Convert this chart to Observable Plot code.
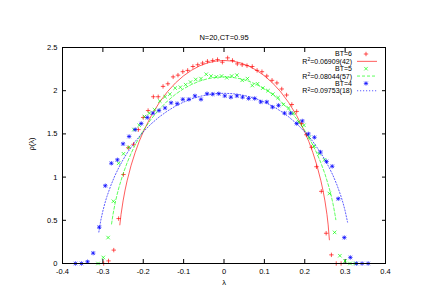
<!DOCTYPE html>
<html><head><meta charset="utf-8">
<script src="https://cdn.jsdelivr.net/npm/d3@7"></script>
<script src="https://cdn.jsdelivr.net/npm/@observablehq/plot@0.6"></script>
<style>
html,body{margin:0;padding:0;background:#fff;}
#chart{width:436px;height:308px;}
</style></head><body><div id="chart"></div>
<script>
const title = "N=20,CT=0.95";
const xLabel = "λ";
const yLabel = "ρ(λ)";
const xTicks = [-0.4,-0.3,-0.2,-0.1,0,0.1,0.2,0.3,0.4];
const yTicks = [0,0.5,1,1.5,2,2.5];
const seriesNames = ["BT=6","BT=5","BT=4"];
const fitLabels = ["=0.06909(42)","=0.08044(57)","=0.09753(18)"];
const colors = ["#ff0000","#00ff00","#0000ff"];

// BT=6 histogram
const bt6X = [-0.298,-0.286,-0.273,-0.261,-0.249,-0.237,-0.224,-0.212,-0.200,-0.188,-0.175,-0.163,-0.151,-0.139,-0.126,-0.114,-0.102,-0.090,-0.077,-0.065,-0.053,-0.041,-0.028,-0.016,-0.004,0.009,0.021,0.033,0.045,0.057,0.070,0.082,0.094,0.106,0.119,0.131,0.143,0.155,0.168,0.180,0.192,0.204,0.217,0.229,0.241,0.253,0.266,0.278,0.290];
const bt6Y = [0,0.03,0.155,0.52,1.03,1.34,1.38,1.55,1.69,1.77,1.93,1.93,2.05,2.08,2.16,2.18,2.22,2.235,2.28,2.30,2.32,2.34,2.35,2.36,2.33,2.38,2.35,2.31,2.30,2.29,2.28,2.235,2.22,2.17,2.12,2.09,2.02,1.95,1.84,1.76,1.62,1.49,1.345,1.12,0.835,0.35,0.10,0,0];
// BT=5 histogram
const bt5X = [-0.312,-0.299,-0.287,-0.274,-0.261,-0.249,-0.236,-0.223,-0.210,-0.197,-0.185,-0.172,-0.159,-0.146,-0.134,-0.121,-0.108,-0.095,-0.083,-0.070,-0.057,-0.044,-0.032,-0.019,-0.006,0.007,0.019,0.032,0.045,0.058,0.070,0.083,0.096,0.109,0.121,0.134,0.147,0.160,0.172,0.185,0.198,0.211,0.223,0.236,0.249,0.261,0.274,0.287,0.300,0.312,0.325];
const bt5Y = [0,0.07,0.30,0.72,1.16,1.27,1.345,1.55,1.60,1.70,1.74,1.78,1.88,1.93,1.96,2.03,2.04,2.07,2.10,2.13,2.14,2.19,2.17,2.16,2.17,2.15,2.17,2.18,2.12,2.14,2.06,2.08,2.03,2.00,1.96,1.92,1.84,1.80,1.74,1.64,1.60,1.46,1.36,1.27,1.20,0.81,0.36,0.09,0.03,0,0];
// BT=4 histogram
const bt4X = [-0.368,-0.353,-0.338,-0.324,-0.309,-0.294,-0.279,-0.264,-0.250,-0.235,-0.220,-0.205,-0.190,-0.176,-0.161,-0.146,-0.131,-0.116,-0.102,-0.087,-0.072,-0.057,-0.042,-0.028,-0.013,0.002,0.017,0.032,0.046,0.061,0.076,0.091,0.106,0.120,0.135,0.150,0.165,0.180,0.194,0.209,0.224,0.239,0.254,0.268,0.283,0.298,0.313,0.328,0.342,0.357];
const bt4Y = [0,0,0.02,0.12,0.42,0.90,1.16,1.20,1.385,1.47,1.55,1.62,1.69,1.74,1.77,1.80,1.86,1.85,1.90,1.90,1.94,1.90,1.965,1.96,1.965,1.94,1.925,1.94,1.925,1.91,1.91,1.87,1.87,1.81,1.83,1.74,1.74,1.62,1.65,1.50,1.46,1.29,1.18,1.125,0.75,0.30,0.07,0,0,0];

// fitted curves
const fit6X = [-0.258,-0.255,-0.25,-0.245,-0.24,-0.23,-0.22,-0.21,-0.2,-0.18,-0.16,-0.14,-0.12,-0.1,-0.08,-0.06,-0.04,-0.02,0,0.02,0.04,0.06,0.08,0.1,0.12,0.14,0.16,0.18,0.2,0.21,0.22,0.23,0.24,0.245,0.25,0.255,0.258,0.261];
const fit6Y = [0.447,0.568,0.724,0.850,0.957,1.137,1.285,1.413,1.524,1.712,1.864,1.989,2.091,2.173,2.238,2.288,2.323,2.343,2.35,2.343,2.323,2.288,2.238,2.173,2.091,1.989,1.864,1.712,1.524,1.413,1.285,1.137,0.957,0.850,0.724,0.568,0.447,0.274];
const fit5X = [-0.2785,-0.275,-0.27,-0.265,-0.26,-0.25,-0.24,-0.23,-0.22,-0.2,-0.18,-0.16,-0.14,-0.12,-0.1,-0.08,-0.06,-0.04,-0.02,0,0.02,0.04,0.06,0.08,0.1,0.12,0.14,0.16,0.18,0.2,0.22,0.23,0.24,0.25,0.26,0.265,0.27,0.275,0.277];
const fit5Y = [0.457,0.566,0.691,0.794,0.884,1.037,1.165,1.275,1.373,1.539,1.674,1.787,1.881,1.959,2.023,2.073,2.112,2.139,2.155,2.16,2.155,2.139,2.112,2.073,2.023,1.959,1.881,1.787,1.674,1.539,1.373,1.275,1.165,1.037,0.884,0.794,0.691,0.566,0.507];
const fit4X = [-0.31,-0.305,-0.3,-0.295,-0.29,-0.28,-0.27,-0.26,-0.25,-0.24,-0.22,-0.2,-0.18,-0.16,-0.14,-0.12,-0.1,-0.08,-0.06,-0.04,-0.02,0,0.02,0.04,0.06,0.08,0.1,0.12,0.14,0.16,0.18,0.2,0.22,0.24,0.25,0.26,0.27,0.28,0.29,0.295,0.3,0.306];
const fit4Y = [0.364,0.503,0.609,0.698,0.775,0.907,1.019,1.115,1.201,1.278,1.412,1.523,1.618,1.698,1.765,1.822,1.868,1.906,1.934,1.954,1.966,1.97,1.966,1.954,1.934,1.906,1.868,1.822,1.765,1.698,1.618,1.523,1.412,1.278,1.201,1.115,1.019,0.907,0.775,0.698,0.609,0.479];

const pts = (X, Y) => X.map((x, i) => ({x, y: Y[i]}));
const plusSym = {
  draw(ctx, size) {
    const r = Math.sqrt(size / Math.PI);
    ctx.moveTo(-r, 0); ctx.lineTo(r, 0);
    ctx.moveTo(0, -r); ctx.lineTo(0, r);
  }
};
const timesSym = {
  draw(ctx, size) {
    const d = Math.sqrt(size / Math.PI) * 0.8;
    ctx.moveTo(-d, -d); ctx.lineTo(d, d);
    ctx.moveTo(-d, d); ctx.lineTo(d, -d);
  }
};
const asterisk = {
  draw(ctx, size) {
    const r = Math.sqrt(size / Math.PI);
    const d = r * 0.8;
    ctx.moveTo(-r, 0); ctx.lineTo(r, 0);
    ctx.moveTo(0, -r); ctx.lineTo(0, r);
    ctx.moveTo(-d, -d); ctx.lineTo(d, d);
    ctx.moveTo(-d, d); ctx.lineTo(d, -d);
  }
};
const symbols = [plusSym, timesSym, asterisk];
const dashes = [null, "3,2", "1.2,1.8"];
const fmt = d => String(+(+d).toFixed(1));

const W = 436, H = 308;
const mL = 62, mR = 51, mT = 47, mB = 45;
const font = "'Liberation Sans', Arial, Helvetica, sans-serif";
const markR = 2.2;

const series = [
  {pts: pts(bt6X, bt6Y), fit: pts(fit6X, fit6Y)},
  {pts: pts(bt5X, bt5Y), fit: pts(fit5X, fit5Y)},
  {pts: pts(bt4X, bt4Y), fit: pts(fit4X, fit4Y)}
];

const marks = [
  Plot.axisX(xTicks, {anchor: "bottom", tickSize: -4, tickPadding: 9, tickFormat: fmt, label: null, stroke: "black", fill: "black"}),
  Plot.axisX(xTicks, {anchor: "top", tickSize: -4, tickFormat: () => "", label: null, stroke: "black"}),
  Plot.axisY(yTicks, {anchor: "left", tickSize: -4, tickPadding: 9, tickFormat: fmt, label: null, stroke: "black", fill: "black"}),
  Plot.axisY(yTicks, {anchor: "right", tickSize: -4, tickFormat: () => "", label: null, stroke: "black"}),
];
series.forEach((s, i) => {
  marks.push(Plot.dot(s.pts, {x: "x", y: "y", symbol: symbols[i], stroke: colors[i], r: markR, strokeWidth: 0.8, strokeOpacity: 0.85}));
  marks.push(Plot.line(s.fit, {x: "x", y: "y", stroke: colors[i], strokeWidth: 0.8, strokeOpacity: 0.8, strokeDasharray: dashes[i]}));
});
marks.push(Plot.frame({stroke: "black", strokeWidth: 1}));
marks.push(Plot.text([title], {text: d => d, frameAnchor: "top", dy: -10, lineAnchor: "middle", fill: "black"}));
marks.push(Plot.text([xLabel], {text: d => d, frameAnchor: "bottom", dy: 19, lineAnchor: "middle", fill: "black"}));
marks.push(Plot.text([yLabel], {text: d => d, frameAnchor: "left", dx: -31, dy: -5, rotate: -90, lineAnchor: "middle", fill: "black"}));

const chart = Plot.plot({
  width: W, height: H,
  marginLeft: mL, marginRight: mR, marginTop: mT, marginBottom: mB,
  x: {domain: [-0.4, 0.4]},
  y: {domain: [0, 2.5]},
  style: {fontFamily: font, fontSize: "7.5px", background: "white", overflow: "visible"},
  marks
});
document.getElementById("chart").appendChild(chart);

// legend (inside top-right of the frame, gnuplot style)
const svg = d3.select(chart);
const frameRight = W - mR;
const textX = frameRight - 33;
const symX = frameRight - 19;
const lineX1 = frameRight - 28, lineX2 = frameRight - 8;
const lg = svg.append("g").attr("font-family", font).attr("font-size", "7px").attr("fill", "black");
const rowH = 7.35;
series.forEach((s, i) => {
  const y1 = mT + 7 + rowH * 2 * i;
  const y2 = y1 + rowH;
  lg.append("text").attr("x", textX).attr("y", y1).attr("dy", "0.35em").attr("text-anchor", "end").text(seriesNames[i]);
  const sym = d3.symbol().type(symbols[i]).size(Math.PI * markR * markR);
  lg.append("path").attr("d", sym()).attr("transform", `translate(${symX},${y1})`).attr("fill", "none")
    .attr("stroke", colors[i]).attr("stroke-width", 0.8).attr("stroke-opacity", 0.85);
  const t = lg.append("text").attr("x", textX).attr("y", y2).attr("dy", "0.35em").attr("text-anchor", "end");
  t.append("tspan").text("R");
  t.append("tspan").attr("dy", -2.5).attr("font-size", "5px").text("2");
  t.append("tspan").attr("dy", 2.5).text(fitLabels[i]);
  lg.append("line").attr("x1", lineX1).attr("x2", lineX2).attr("y1", y2).attr("y2", y2)
    .attr("stroke", colors[i]).attr("stroke-width", 0.8).attr("stroke-opacity", 0.8).attr("stroke-dasharray", dashes[i]);
});
</script></body></html>
